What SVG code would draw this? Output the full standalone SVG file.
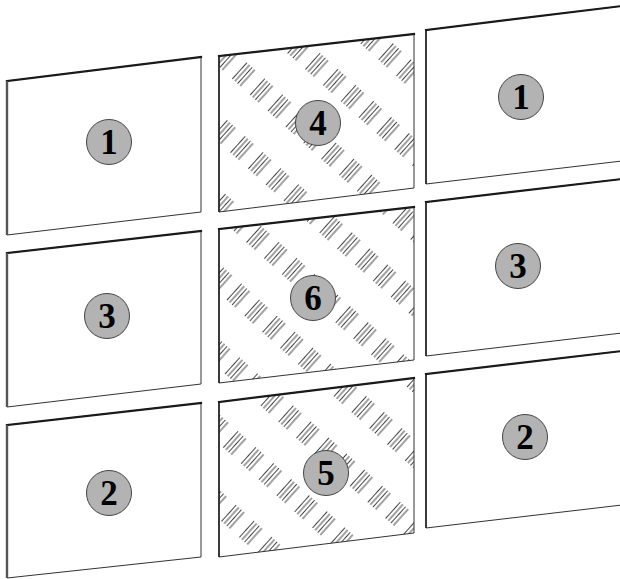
<svg xmlns="http://www.w3.org/2000/svg" width="620" height="579" viewBox="0 0 620 579">
<style>
.panel{fill:#fff;stroke:#333;stroke-width:1}
.hatched{fill:url(#hatch);stroke:#333;stroke-width:1}
.top{stroke:#1a1a1a;stroke-width:2.2;fill:none;stroke-linecap:square}
.side{stroke:#555;stroke-width:2.4;fill:none}
.side2{stroke:#222;stroke-width:1.6;fill:none}
.badge{fill:#b3b3b3;stroke:#444;stroke-width:1}
.num{font-family:"Liberation Serif","Times New Roman",serif;font-weight:bold;font-size:35px;fill:#000;text-anchor:middle}
</style>
<defs>
<pattern id="hatch" patternUnits="userSpaceOnUse" width="24" height="56" patternTransform="translate(258,238) rotate(42) translate(-12,-28)">
<g stroke="#222" stroke-width="0.85">
<line x1="6.5" y1="17" x2="6.5" y2="39"/>
<line x1="10" y1="17" x2="10" y2="39"/>
<line x1="13.5" y1="17" x2="13.5" y2="39"/>
<line x1="17" y1="17" x2="17" y2="39"/>
</g>
</pattern>
</defs>
<rect width="620" height="579" fill="#fff"/>

<g id="L1">
<polygon class="panel" points="7,81 201,57 201,212 7,235"/>
<line class="top" x1="7" y1="81" x2="201" y2="57"/>
<line class="side" x1="7" y1="81" x2="7" y2="235"/>
<circle class="badge" cx="109" cy="142" r="22.5"/>
<text class="num" x="109" y="154">1</text>
</g>
<g id="L2">
<polygon class="panel" points="7,253 201,231 201,384 7,407"/>
<line class="top" x1="7" y1="253" x2="201" y2="231"/>
<line class="side" x1="7" y1="253" x2="7" y2="407"/>
<circle class="badge" cx="107" cy="316" r="22.5"/>
<text class="num" x="107" y="328">3</text>
</g>
<g id="L3">
<polygon class="panel" points="7,425 201,403 201,557 7,578"/>
<line class="top" x1="7" y1="425" x2="201" y2="403"/>
<line class="side" x1="7" y1="425" x2="7" y2="578"/>
<circle class="badge" cx="109" cy="493" r="22.5"/>
<text class="num" x="109" y="505">2</text>
</g>

<g id="M1">
<polygon class="hatched" points="219,56 414,34 414,188 219,212"/>
<line class="top" x1="219" y1="56" x2="414" y2="34"/>
<line class="side2" x1="219" y1="56" x2="219" y2="212"/>
<circle class="badge" cx="318" cy="123" r="22.5"/>
<text class="num" x="318" y="135">4</text>
</g>
<g id="M2">
<polygon class="hatched" points="219,229 414,207 414,360 219,383"/>
<line class="top" x1="219" y1="229" x2="414" y2="207"/>
<line class="side2" x1="219" y1="229" x2="219" y2="383"/>
<circle class="badge" cx="313" cy="298" r="22.5"/>
<text class="num" x="313" y="310">6</text>
</g>
<g id="M3">
<polygon class="hatched" points="219,402 414,378 414,533 219,557"/>
<line class="top" x1="219" y1="402" x2="414" y2="378"/>
<line class="side2" x1="219" y1="402" x2="219" y2="557"/>
<circle class="badge" cx="326" cy="473" r="22.5"/>
<text class="num" x="326" y="485">5</text>
</g>

<g id="R1">
<polygon class="panel" points="426,30 622,6 622,161 426,184"/>
<line class="top" x1="426" y1="30" x2="622" y2="6"/>
<line class="side2" x1="426" y1="30" x2="426" y2="184"/>
<circle class="badge" cx="521" cy="97" r="22.5"/>
<text class="num" x="521" y="109">1</text>
</g>
<g id="R2">
<polygon class="panel" points="426,202 622,179 622,333 426,356"/>
<line class="top" x1="426" y1="202" x2="622" y2="179"/>
<line class="side2" x1="426" y1="202" x2="426" y2="356"/>
<circle class="badge" cx="518" cy="266" r="22.5"/>
<text class="num" x="518" y="278">3</text>
</g>
<g id="R3">
<polygon class="panel" points="426,374 622,351 622,505 426,528"/>
<line class="top" x1="426" y1="374" x2="622" y2="351"/>
<line class="side2" x1="426" y1="374" x2="426" y2="528"/>
<circle class="badge" cx="525" cy="437" r="22.5"/>
<text class="num" x="525" y="449">2</text>
</g>
<g id="connectors"/>
</svg>
